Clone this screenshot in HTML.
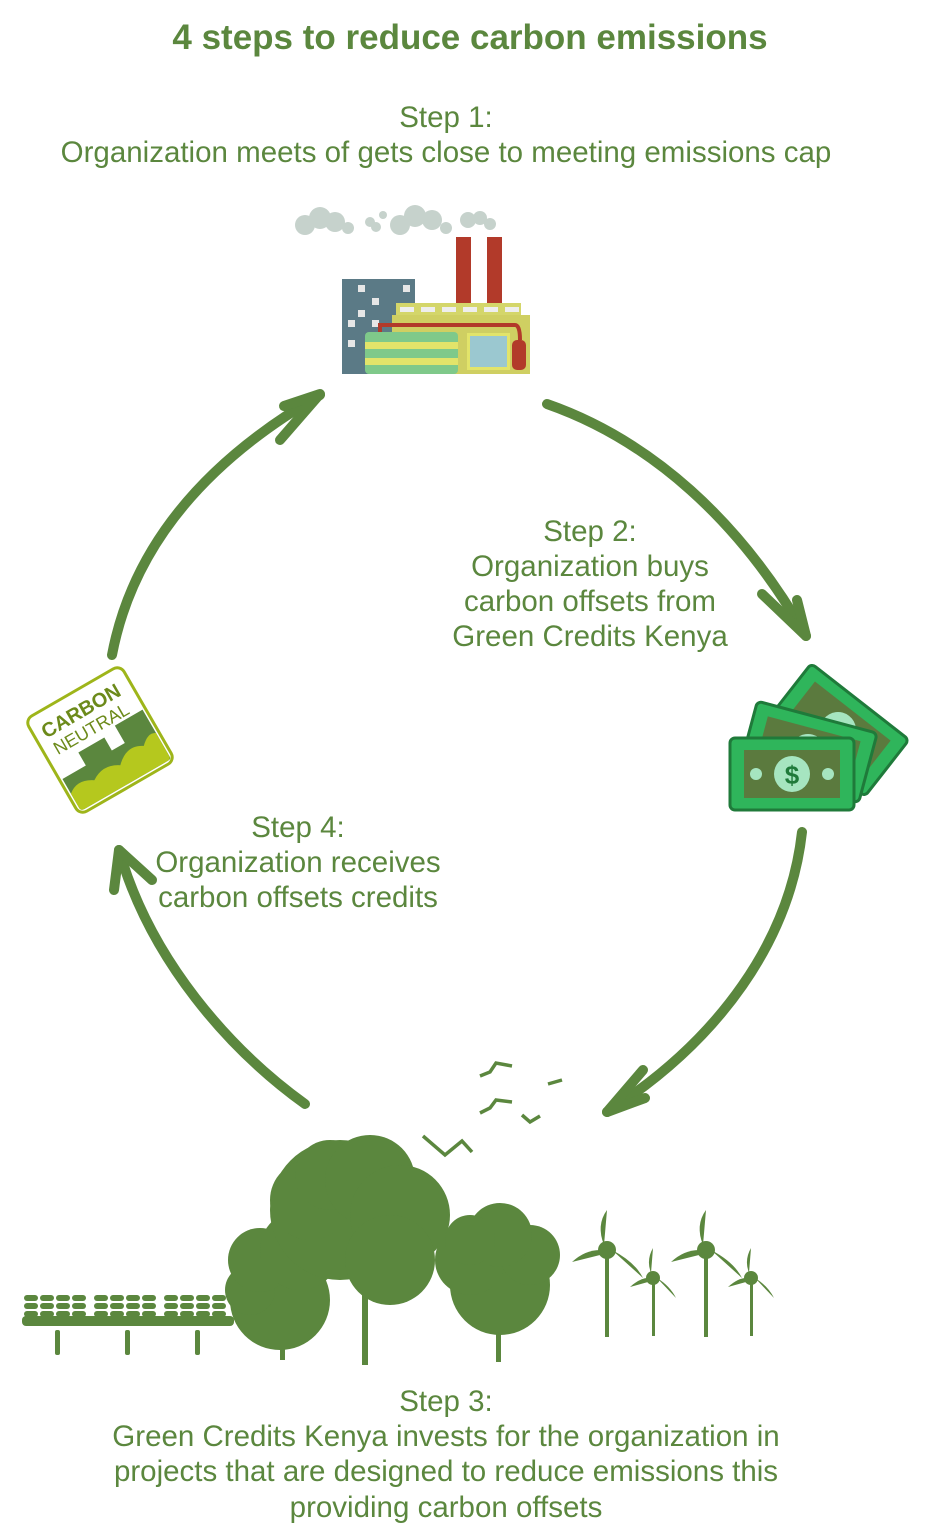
<!DOCTYPE html>
<html><head><meta charset="utf-8"><style>
body{margin:0;background:#fff}
svg{display:block}
text{font-family:"Liberation Sans",sans-serif;fill:#5b873e;text-anchor:middle}
</style></head><body>
<svg width="936" height="1536" viewBox="0 0 936 1536" xmlns="http://www.w3.org/2000/svg">
<text x="470" y="49" font-size="35" font-weight="bold">4 steps to reduce carbon emissions</text>
<g font-size="29.5">
<text x="446" y="127">Step 1:</text>
<text x="446" y="162">Organization meets of gets close to meeting emissions cap</text>
<text x="590" y="541">Step 2:</text>
<text x="590" y="576">Organization buys</text>
<text x="590" y="611">carbon offsets from</text>
<text x="590" y="646">Green Credits Kenya</text>
<text x="298" y="837">Step 4:</text>
<text x="298" y="872">Organization receives</text>
<text x="298" y="907">carbon offsets credits</text>
<text x="446" y="1411">Step 3:</text>
<text x="446" y="1446">Green Credits Kenya invests for the organization in</text>
<text x="446" y="1481">projects that are designed to reduce emissions this</text>
<text x="446" y="1517">providing carbon offsets</text>
</g>
<g fill="none" stroke="#5b873e" stroke-width="10" stroke-linecap="round" stroke-linejoin="round">
<path d="M112 655 C130 560 190 470 320 395"/>
<path d="M320 394 L284 406 M320 394 L280 440"/>
<path d="M547 404 C650 440 740 520 806 636"/>
<path d="M806 636 L762 594 M806 636 L797 600"/>
<path d="M802 832 C790 940 720 1040 607 1112"/>
<path d="M607 1112 L645 1098 M607 1112 L643 1070"/>
<path d="M305 1104 C230 1050 150 960 119 850"/>
<path d="M119 850 L114 890 M119 850 L152 880"/>
</g>
<g fill="#c6d2cc">
<circle cx="305" cy="225" r="10"/><circle cx="320" cy="218" r="11"/><circle cx="335" cy="222" r="10"/><circle cx="348" cy="228" r="6"/>
<circle cx="370" cy="222" r="5"/><circle cx="383" cy="215" r="4"/><circle cx="376" cy="227" r="5"/>
<circle cx="400" cy="225" r="10"/><circle cx="415" cy="216" r="11"/><circle cx="432" cy="220" r="10"/><circle cx="446" cy="228" r="6"/>
<circle cx="468" cy="220" r="8"/><circle cx="480" cy="218" r="7"/><circle cx="490" cy="224" r="6"/>
</g>
<rect x="342" y="279" width="73" height="95" fill="#5b7a86"/>
<g fill="#e6e6e6"><rect x="358" y="285" width="7" height="7"/><rect x="372" y="298" width="7" height="7"/><rect x="358" y="310" width="7" height="7"/><rect x="348" y="320" width="7" height="7"/><rect x="348" y="340" width="7" height="7"/><rect x="403" y="285" width="7" height="7"/><rect x="372" y="320" width="7" height="7"/></g>
<rect x="456" y="237" width="15" height="70" fill="#b23a2a"/>
<rect x="487" y="237" width="15" height="70" fill="#b23a2a"/>
<rect x="396" y="303" width="125" height="12" fill="#d4d66a"/>
<rect x="392" y="315" width="138" height="59" fill="#cfcf62"/>
<g fill="#eee"><rect x="400" y="307" width="14" height="5"/><rect x="421" y="307" width="14" height="5"/><rect x="442" y="307" width="14" height="5"/><rect x="463" y="307" width="14" height="5"/><rect x="484" y="307" width="14" height="5"/><rect x="505" y="307" width="14" height="5"/></g>
<path d="M380 332 V325 H515 Q520 325 520 340" fill="none" stroke="#b23a2a" stroke-width="4"/>
<rect x="512" y="340" width="14" height="30" rx="5" fill="#b23a2a"/>
<rect x="365" y="332" width="93" height="42" rx="4" fill="#7fc98a"/>
<rect x="365" y="342" width="93" height="7" fill="#e2e46a"/><rect x="365" y="358" width="93" height="7" fill="#e2e46a"/>
<rect x="467" y="333" width="43" height="37" fill="#e2e46a"/><rect x="470" y="336" width="37" height="31" fill="#9bc8d0"/>
<g transform="translate(100,740) rotate(-30)">
<rect x="-55" y="-55" width="110" height="110" rx="8" fill="#fff" stroke="#9eb51a" stroke-width="3"/>
<path d="M-52 15 H-25 V0 H5 V15 H20 V-5 H52 V50 Q52 52 48 52 H-48 Q-52 52 -52 48 Z" fill="#5b873e"/>
<path d="M-52 32 Q-40 22 -25 32 Q-10 22 5 32 Q20 17 35 27 Q45 17 52 22 V48 Q52 52 48 52 H-48 Q-52 52 -52 48Z" fill="#b5c81e"/>
<text x="-2" y="-28" font-size="20" font-weight="bold" style="fill:#6c8a1a">CARBON</text>
<text x="-2" y="-8" font-size="18" style="fill:#6c8a1a">NEUTRAL</text>
</g>
<g stroke="#1f7a3a" stroke-width="3">
<g transform="translate(838,730) rotate(38)"><rect x="-62" y="-36" width="124" height="72" rx="5" fill="#2fb55b"/><rect x="-48" y="-24" width="96" height="48" fill="#5b7a3e" stroke="none"/><circle r="18" fill="#a6e5c0" stroke="none"/></g>
<g transform="translate(808,752) rotate(15)"><rect x="-62" y="-36" width="124" height="72" rx="5" fill="#2fb55b"/><rect x="-48" y="-24" width="96" height="48" fill="#5b7a3e" stroke="none"/><circle r="18" fill="#a6e5c0" stroke="none"/></g>
<g transform="translate(792,774)"><rect x="-62" y="-36" width="124" height="72" rx="5" fill="#2fb55b"/><rect x="-48" y="-24" width="96" height="48" fill="#5b7a3e" stroke="none"/><circle r="18" fill="#a6e5c0" stroke="none"/><circle cx="-36" r="6" fill="#a6e5c0" stroke="none"/><circle cx="36" r="6" fill="#a6e5c0" stroke="none"/></g>
</g>
<text x="792" y="784" font-size="26" font-weight="bold" style="fill:#1f7a3a">$</text>
<g fill="none" stroke="#5b873e" stroke-width="3.5">
<path d="M480 1076 L490 1072 L496 1063 L512 1066"/><path d="M480 1113 L490 1108 L496 1100 L512 1102"/>
<path d="M548 1084 L555 1082 L562 1080"/><path d="M522 1115 L530 1122 L540 1116"/>
<path d="M423 1136 L445 1155 L462 1141 L472 1152"/>
</g>
<g fill="#5b873e">
<rect x="280" y="1320" width="5" height="40"/><rect x="362" y="1270" width="6" height="95"/><rect x="496" y="1300" width="5" height="62"/>
<circle cx="280" cy="1300" r="50"/><circle cx="250" cy="1290" r="25"/><circle cx="260" cy="1260" r="32"/><circle cx="300" cy="1250" r="40"/>
<circle cx="340" cy="1210" r="70"/><circle cx="310" cy="1200" r="40"/><circle cx="330" cy="1175" r="35"/><circle cx="370" cy="1180" r="45"/><circle cx="400" cy="1215" r="50"/><circle cx="390" cy="1260" r="45"/>
<circle cx="500" cy="1285" r="50"/><circle cx="470" cy="1260" r="35"/><circle cx="530" cy="1255" r="30"/><circle cx="500" cy="1235" r="32"/><circle cx="470" cy="1240" r="25"/>
</g>
<g fill="#5b873e">
<g id="row"><rect x="24" y="1295" width="14" height="6" rx="3"/><rect x="40" y="1295" width="14" height="6" rx="3"/><rect x="56" y="1295" width="14" height="6" rx="3"/><rect x="72" y="1295" width="14" height="6" rx="3"/><rect x="94" y="1295" width="14" height="6" rx="3"/><rect x="110" y="1295" width="14" height="6" rx="3"/><rect x="126" y="1295" width="14" height="6" rx="3"/><rect x="142" y="1295" width="14" height="6" rx="3"/><rect x="164" y="1295" width="14" height="6" rx="3"/><rect x="180" y="1295" width="14" height="6" rx="3"/><rect x="196" y="1295" width="14" height="6" rx="3"/><rect x="212" y="1295" width="14" height="6" rx="3"/></g>
<use href="#row" y="8"/><use href="#row" y="16"/>
<rect x="22" y="1316" width="212" height="10" rx="4"/>
<rect x="55" y="1330" width="5" height="25" rx="2"/><rect x="125" y="1330" width="5" height="25" rx="2"/><rect x="195" y="1330" width="5" height="25" rx="2"/>
</g>
<g fill="#5b873e">
<rect x="605" y="1252" width="4" height="85"/><rect x="704" y="1252" width="4" height="85"/>
<rect x="652" y="1278" width="3" height="58"/><rect x="750" y="1278" width="3" height="58"/>
<circle cx="607" cy="1250" r="9"/><circle cx="706" cy="1250" r="9"/><circle cx="653" cy="1278" r="7"/><circle cx="751" cy="1278" r="7"/>
<path d="M604 1245 Q596 1225 607 1210 Z"/><path d="M600 1255 L572 1262 Q585 1250 600 1250Z"/><path d="M612 1250 Q635 1262 643 1278 Z"/>
<path d="M703 1245 Q695 1225 706 1210 Z"/><path d="M699 1255 L671 1262 Q684 1250 699 1250Z"/><path d="M711 1250 Q734 1262 742 1278 Z"/>
<path d="M651 1273 Q646 1260 653 1248Z"/><path d="M648 1282 L630 1287 Q640 1278 648 1278Z"/><path d="M657 1278 Q670 1286 676 1298Z"/>
<path d="M749 1273 Q744 1260 751 1248Z"/><path d="M746 1282 L728 1287 Q738 1278 746 1278Z"/><path d="M755 1278 Q768 1286 774 1298Z"/>
</g>
</svg>
</body></html>
